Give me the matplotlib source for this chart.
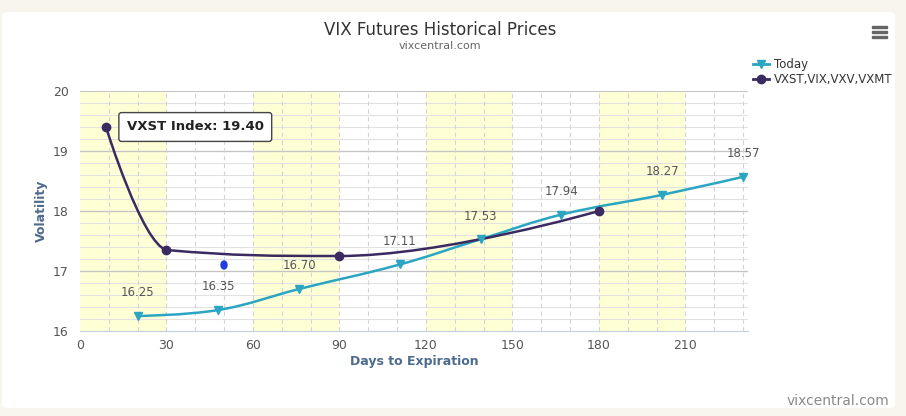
import numpy as np
import matplotlib.pyplot as plt
from matplotlib.path import Path
from matplotlib.patches import PathPatch, FancyBboxPatch, Rectangle, Ellipse

# === Data ===
today_days = [20, 48, 76, 111, 139, 167, 202, 230]
today_vals = [16.25, 16.35, 16.70, 17.11, 17.53, 17.94, 18.27, 18.57]
index_days = [9, 30, 90, 180]
index_vals = [19.40, 17.35, 17.25, 18.00]
index_names = ["VXST", "VIX", "VXV", "VXMT"]

TODAY_COLOR = "#2aa5c2"
INDEX_COLOR = "#3b2a62"
AXIS_TITLE = "#4d6a8f"


def spline_path(xs, ys, smoothing=1.5):
    # highcharts-like spline: bezier control points from neighbours
    denom = smoothing + 1
    n = len(xs)
    verts = [(xs[0], ys[0])]
    codes = [Path.MOVETO]
    right = [(xs[0], ys[0])]
    left = [(xs[0], ys[0])]
    for i in range(1, n):
        x, y = xs[i], ys[i]
        if i < n - 1:
            lx = (smoothing * x + xs[i - 1]) / denom
            ly = (smoothing * y + ys[i - 1]) / denom
            rx = (smoothing * x + xs[i + 1]) / denom
            ry = (smoothing * y + ys[i + 1]) / denom
            corr = (ry - ly) * (rx - x) / (rx - lx) + y - ry
            ly += corr
            ry += corr
            lo, hi = min(ys[i - 1], y), max(ys[i - 1], y)
            if ly > hi:
                ly = hi
                ry = 2 * y - ly
            elif ly < lo:
                ly = lo
                ry = 2 * y - ly
            lo, hi = min(ys[i + 1], y), max(ys[i + 1], y)
            if ry > hi:
                ry = hi
                ly = 2 * y - ry
            elif ry < lo:
                ry = lo
                ly = 2 * y - ry
        else:
            lx, ly, rx, ry = x, y, x, y
        left.append((lx, ly))
        right.append((rx, ry))
    for i in range(1, n):
        verts += [right[i - 1], left[i], (xs[i], ys[i])]
        codes += [Path.CURVE4] * 3
    return Path(verts, codes)


fig = plt.figure(figsize=(9.06, 4.16), dpi=100)
fig.patch.set_facecolor("#f7f5ec")
W, H = 906, 416

# white panel
fig.patches.append(FancyBboxPatch((2 / W, 8 / H), 893 / W, 396 / H,
                                  boxstyle="round,pad=0,rounding_size=0.008",
                                  transform=fig.transFigure, facecolor="white",
                                  edgecolor="none", zorder=-5))

ax = fig.add_axes([80 / W, (416 - 331) / H, 668 / W, 240 / H])
ax.set_zorder(2)
ax.set_xlim(0, 231.7)
ax.set_ylim(16, 20)

for x0 in [0, 60, 120, 180]:
    ax.axvspan(x0, x0 + 30, color="#ffffd6", zorder=0, lw=0)

ax.set_yticks([16, 17, 18, 19, 20])
ax.set_xticks([0, 30, 60, 90, 120, 150, 180, 210])
for yv in np.arange(16.2, 20.0, 0.2):
    ax.axhline(yv, color="#e2e2e2", lw=0.8, zorder=1)
for yv in [17, 18, 19]:
    ax.axhline(yv, color="#c4c4c4", lw=0.9, zorder=1)
ax.axhline(20, color="#c0c0c0", lw=1.2, zorder=1)
for xv in np.arange(10, 231, 10):
    ax.axvline(xv, color="#d4d4d4", lw=0.8, ls=(0, (4, 3)), zorder=1)

for s in ["top", "right", "left"]:
    ax.spines[s].set_visible(False)
ax.spines["bottom"].set_color("#c0d0e0")
ax.tick_params(axis="both", which="both", length=0, labelsize=9, labelcolor="#555555")
ax.tick_params(axis="x", pad=6)
ax.tick_params(axis="y", pad=8)
ax.set_facecolor("none")

# series
ax.add_patch(PathPatch(spline_path(today_days, today_vals), fill=False,
                       edgecolor=TODAY_COLOR, lw=1.8, zorder=4))
ax.plot(today_days, today_vals, ls="none", marker="v", ms=6, color=TODAY_COLOR, zorder=5)
ax.add_patch(PathPatch(spline_path(index_days, index_vals), fill=False,
                       edgecolor=INDEX_COLOR, lw=1.8, zorder=4))
ax.plot(index_days, index_vals, ls="none", marker="o", ms=6, color=INDEX_COLOR, zorder=5)

for d, v in zip(today_days, today_vals):
    ax.annotate(f"{v:.2f}", (d, v), xytext=(0, 12), textcoords="offset points",
                ha="center", va="bottom", fontsize=8.5, color="#555555", zorder=6)

# legend handles
ax.plot([], [], color=TODAY_COLOR, marker="v", ms=6, lw=2, label="Today")
ax.plot([], [], color=INDEX_COLOR, marker="o", ms=6, lw=2, label="VXST,VIX,VXV,VXMT")
h, l = ax.get_legend_handles_labels()
fig.legend(h, l, loc="upper left", bbox_to_anchor=(748 / W, 1 - 53 / H), frameon=False,
           fontsize=8.5, handlelength=1.4, handletextpad=0.4, labelspacing=0.2,
           labelcolor="#333333", borderaxespad=0)

ax.set_xlabel("Days to Expiration", fontsize=9, fontweight="bold", color=AXIS_TITLE, labelpad=2)
ax.set_ylabel("Volatility", fontsize=9, fontweight="bold", color=AXIS_TITLE, labelpad=4)

# tooltip
ax.annotate(f"{index_names[0]} Index: {index_vals[0]:.2f}", (index_days[0], index_vals[0]),
            xytext=(15, 0), textcoords="offset points", ha="left", va="center",
            fontsize=9.5, fontweight="bold", color="#222222", zorder=8,
            bbox=dict(boxstyle="round,pad=0.6,rounding_size=0.2", fc="white",
                      ec="#444444", lw=1))

# stray cursor mark
fig.patches.append(Ellipse((224 / W, 1 - 265 / H), 6 / W, 8 / H,
                           transform=fig.transFigure, color="#1f3ee0", zorder=10))

fig.text(440 / W, 1 - 30 / H, "VIX Futures Historical Prices", ha="center", va="center",
         fontsize=12, color="#333333")
fig.text(440 / W, 1 - 46 / H, "vixcentral.com", ha="center", va="center",
         fontsize=8, color="#666666")
fig.text(889 / W, 1 - 401 / H, "vixcentral.com", ha="right", va="center",
         fontsize=10, color="#8a8a8a")

# menu icon
for yy in [27, 32, 37]:
    fig.patches.append(Rectangle((872 / W, 1 - (yy + 1.3) / H), 15 / W, 2.6 / H,
                                 transform=fig.transFigure, color="#666666", zorder=3))

fig.savefig("out.png", dpi=100, facecolor=fig.get_facecolor())
